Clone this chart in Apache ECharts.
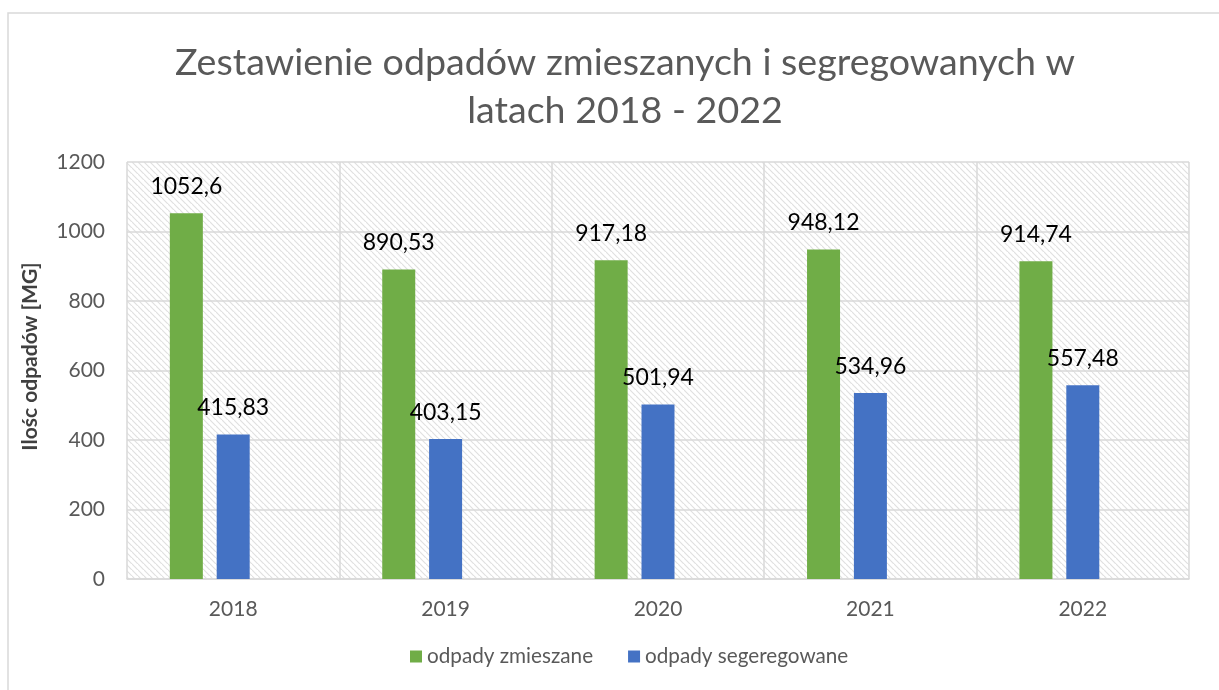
<!DOCTYPE html>
<html>
<head>
<meta charset="utf-8">
<script src="https://cdn.jsdelivr.net/npm/echarts@6/dist/echarts.min.js"></script>
<style>
  html, body { margin: 0; padding: 0; background: #fff; }
  #chart { width: 1219px; height: 690px; }
</style>
</head>
<body>
<div id="chart"></div>
<script>
const years = ['2018', '2019', '2020', '2021', '2022'];
const mixedWaste = [1052.6, 890.53, 917.18, 948.12, 914.74];
const sortedWaste = [415.83, 403.15, 501.94, 534.96, 557.48];
const yTicks = [0, 200, 400, 600, 800, 1000, 1200];

// diagonal hatch for the plot area
const makeHatch = () => {
  const size = 6;
  const c = document.createElement('canvas');
  c.width = size;
  c.height = size;
  const ctx = c.getContext('2d');
  ctx.strokeStyle = '#e0e0e0';
  ctx.lineWidth = 1.2;
  ctx.beginPath();
  ctx.moveTo(-1, -1);
  ctx.lineTo(size + 1, size + 1);
  ctx.moveTo(-size - 1, -1);
  ctx.lineTo(1, size + 1);
  ctx.moveTo(size - 1, -size - 1);
  ctx.lineTo(2 * size + 1, size + 1);
  ctx.stroke();
  return c;
};

const fmt = (v) => String(v).replace('.', ',');
const font = 'Lato, "Open Sans", sans-serif';

const labelStyle = {
  show: true,
  position: 'top',
  distance: 15,
  fontSize: 23,
  color: '#000',
  fontFamily: font,
  formatter: (p) => fmt(p.value),
};

const chart = echarts.init(document.getElementById('chart'));

chart.setOption({
  backgroundColor: '#fff',
  textStyle: { fontFamily: font },
  graphic: [
    {
      type: 'rect',
      shape: { x: 8, y: 13, width: 1400, height: 900 },
      style: { fill: 'none', stroke: '#d9d9d9', lineWidth: 1.5 },
      silent: true,
    },
  ],
  title: {
    text: 'Zestawienie odpadów zmieszanych i segregowanych w\nlatach 2018 - 2022',
    left: 620,
    top: 34,
    textAlign: 'center',
    textStyle: {
      fontFamily: font,
      fontSize: 37.6,
      fontWeight: 'normal',
      color: '#595959',
      lineHeight: 48,
    },
  },
  legend: {
    data: ['odpady zmieszane', 'odpady segeregowane'],
    bottom: 18,
    left: 405,
    icon: 'rect',
    itemWidth: 12,
    itemHeight: 12,
    itemGap: 35,
    textStyle: { fontSize: 20.7, color: '#595959', fontFamily: font },
  },
  grid: {
    left: 127,
    right: 30,
    top: 162,
    bottom: 111,
    show: true,
    borderWidth: 0,
    backgroundColor: { image: makeHatch(), repeat: 'repeat' },
  },
  xAxis: {
    type: 'category',
    data: years,
    axisLine: { show: true, lineStyle: { color: '#d9d9d9', width: 1.5 } },
    axisTick: { show: false },
    splitLine: { show: true, lineStyle: { color: '#d9d9d9', width: 1.5 } },
    axisLabel: { fontSize: 21, color: '#595959', margin: 20, fontFamily: font },
  },
  yAxis: {
    type: 'value',
    min: yTicks[0],
    max: yTicks[yTicks.length - 1],
    interval: 200,
    name: 'Ilośc odpadów [MG]',
    nameLocation: 'middle',
    nameGap: 86,
    nameTextStyle: {
      fontSize: 21,
      fontWeight: 'bold',
      color: '#404040',
      fontFamily: font,
      padding: [0, 0, 0, 28],
    },
    axisLine: { show: false },
    axisTick: { show: false },
    splitLine: { show: true, lineStyle: { color: '#d9d9d9', width: 1.5 } },
    axisLabel: {
      fontSize: 21,
      color: '#595959',
      margin: 22,
      fontFamily: font,
      formatter: (v) => String(v),
    },
  },
  series: [
    {
      name: 'odpady zmieszane',
      type: 'bar',
      data: mixedWaste,
      barWidth: 33,
      barGap: '42%',
      itemStyle: { color: '#70ad47' },
      label: labelStyle,
    },
    {
      name: 'odpady segeregowane',
      type: 'bar',
      data: sortedWaste,
      barWidth: 33,
      barGap: '42%',
      itemStyle: { color: '#4472c4' },
      label: labelStyle,
    },
    {
      // empty third slot, keeps the pair shifted left like the original
      name: 'empty',
      type: 'bar',
      data: years.map(() => '-'),
      barWidth: 33,
      barGap: '42%',
    },
  ],
});
</script>
</body>
</html>
